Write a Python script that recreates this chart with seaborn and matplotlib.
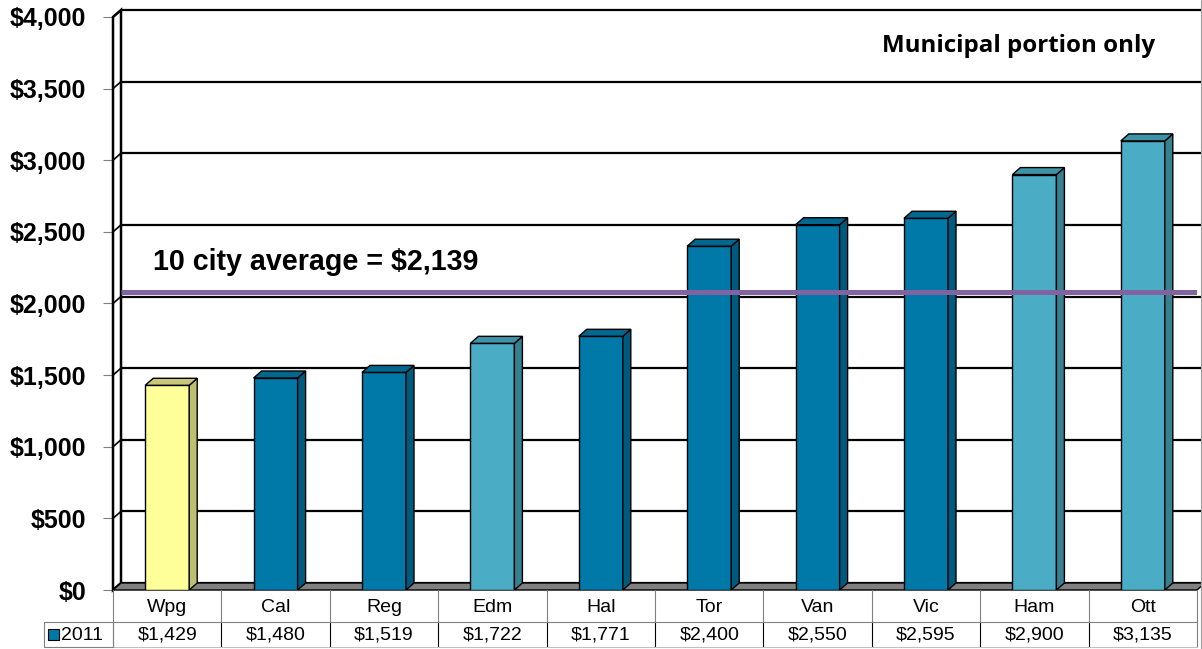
import matplotlib
matplotlib.use("Agg")
import matplotlib.pyplot as plt
import seaborn as sns
import pandas as pd
from matplotlib.patches import Polygon
from matplotlib.transforms import blended_transform_factory

# data
cities = ['Wpg', 'Cal', 'Reg', 'Edm', 'Hal', 'Tor', 'Van', 'Vic', 'Ham', 'Ott']
tax_2011 = [1429, 1480, 1519, 1722, 1771, 2400, 2550, 2595, 2900, 3135]
series_name = '2011'
avg_label = '10 city average = $2,139'
avg_line_value = 2080
y_ticks = [0, 500, 1000, 1500, 2000, 2500, 3000, 3500, 4000]

# colours: front, side, top
front = {'Y': '#FFFF99', 'D': '#0079A8', 'L': '#4BACC6'}
side = {'Y': '#BFBF73', 'D': '#005A7E', 'L': '#37808F'}
top = {'Y': '#C8C878', 'D': '#00678F', 'L': '#3E93A8'}
kinds = ['Y', 'D', 'D', 'L', 'D', 'D', 'D', 'D', 'L', 'L']

sns.set_style('white')
plt.rcParams['font.family'] = ['Liberation Sans', 'DejaVu Sans']
plt.rcParams['text.color'] = 'black'
plt.rcParams['ytick.labelcolor'] = 'black'

W, H = 1202, 649
fig = plt.figure(figsize=(W / 100, H / 100), dpi=100)
ax = fig.add_axes([113 / W, 59 / H, 1084 / W, 573 / H])

df = pd.DataFrame({'city': cities, 'value': tax_2011})
sns.barplot(data=df, x='city', y='value', hue='city',
            palette=[front[k] for k in kinds], legend=False, saturation=1,
            width=0.406, edgecolor='black', linewidth=1, ax=ax, zorder=3)

ax.set_xlim(-0.5, 9.5)
ax.set_ylim(0, 4000)
for s in ax.spines.values():
    s.set_visible(False)

# depth offset (8 px right, 7 px up) in data units
p0 = ax.transData.transform((0, 0))
dx, dy = ax.transData.inverted().transform(p0 + [8, 7])

# left wall
ax.add_patch(Polygon([(-0.5, 0), (-0.5, 4000), (-0.5 + dx, 4000 + dy), (-0.5 + dx, dy)],
                     closed=True, facecolor='white', edgecolor='black', lw=1.8,
                     clip_on=False, zorder=1))
# gridlines on back wall + wall diagonals
for v in y_ticks:
    ax.plot([-0.5 + dx, 9.5 + dx], [v + dy, v + dy], color='black', lw=1.6,
            clip_on=False, zorder=1)
    ax.plot([-0.5, -0.5 + dx], [v, v + dy], color='black', lw=1.2,
            clip_on=False, zorder=1)
# floor
ax.add_patch(Polygon([(-0.5, 0), (9.5, 0), (9.5 + dx, dy), (-0.5 + dx, dy)],
                     closed=True, facecolor='#808080', edgecolor='black', lw=1,
                     clip_on=False, zorder=2))

# 3d faces on bars
for p, k in zip(ax.patches[:len(cities)], kinds):
    x0 = p.get_x()
    x1 = x0 + p.get_width()
    h = p.get_height()
    ax.add_patch(Polygon([(x1, 0), (x1, h), (x1 + dx, h + dy), (x1 + dx, dy)],
                         closed=True, facecolor=side[k], edgecolor='black', lw=1,
                         zorder=3))
    ax.add_patch(Polygon([(x0, h), (x1, h), (x1 + dx, h + dy), (x0 + dx, h + dy)],
                         closed=True, facecolor=top[k], edgecolor='black', lw=1,
                         zorder=3))

# average line
ax.plot([-0.5 + dx, 9.5], [avg_line_value, avg_line_value], color='#8064A2',
        lw=3.6, solid_capstyle='butt', zorder=5)
ax.text(-0.13, 2290, avg_label, fontsize=20.6, fontweight='bold', va='center', ha='left')
ax.text(9.11, 3797, 'Municipal portion only', fontsize=17.4, fontweight='bold',
        family=['Open Sans', 'DejaVu Sans'], va='center', ha='right')

# axis ticks
ax.set_yticks(y_ticks)
ax.set_yticklabels([f'${v:,}' for v in y_ticks], fontsize=18, fontweight='bold')
ax.tick_params(axis='y', length=7.2, width=0.8, color='#808080', pad=12, left=True)
ax.set_xticks([])
ax.set_xlabel('')
ax.set_ylabel('')

# data table below the chart
tr = blended_transform_factory(ax.transData, fig.transFigure)
fy = lambda py: (H - py) / H
r1_top, r_mid, r_bot = fy(590), fy(621.5), fy(647)
for i in range(len(cities) + 1):
    xb = i - 0.5
    ax.plot([xb, xb], [r1_top, r_mid], color='#808080', lw=0.8, transform=tr, clip_on=False)
    ax.plot([xb, xb], [r_mid, r_bot], color='black' if 0 < i < len(cities) else '#808080',
            lw=0.8, transform=tr, clip_on=False)
ax.plot([-0.5, 9.5], [r_mid, r_mid], color='#808080', lw=0.8, transform=tr, clip_on=False)
ax.plot([-0.5, 9.5], [r_bot, r_bot], color='#C0C0C0', lw=0.8, transform=tr, clip_on=False)
for i, (c, v) in enumerate(zip(cities, tax_2011)):
    ax.text(i, fy(608), c, fontsize=14, ha='center', va='center', transform=tr)
    ax.text(i, fy(635), f'${v:,}', fontsize=14, ha='center', va='center', transform=tr)
# row label cell
fig.add_artist(plt.Line2D([44 / W, 113 / W, 113 / W, 44 / W, 44 / W],
                          [r_mid, r_mid, r_bot, r_bot, r_mid], color='#808080', lw=0.8))
fig.add_artist(plt.Rectangle((48 / W, fy(640)), 11 / W, 11 / H, facecolor='#0079A8',
                             edgecolor='black', lw=0.8))
fig.text(61 / W, fy(635), series_name, fontsize=14, ha='left', va='center')
# chart area right edge
fig.add_artist(plt.Line2D([1200.5 / W, 1200.5 / W], [0, 1], color='#A0A0A0', lw=0.8))

fig.savefig('out.png', dpi=100)
